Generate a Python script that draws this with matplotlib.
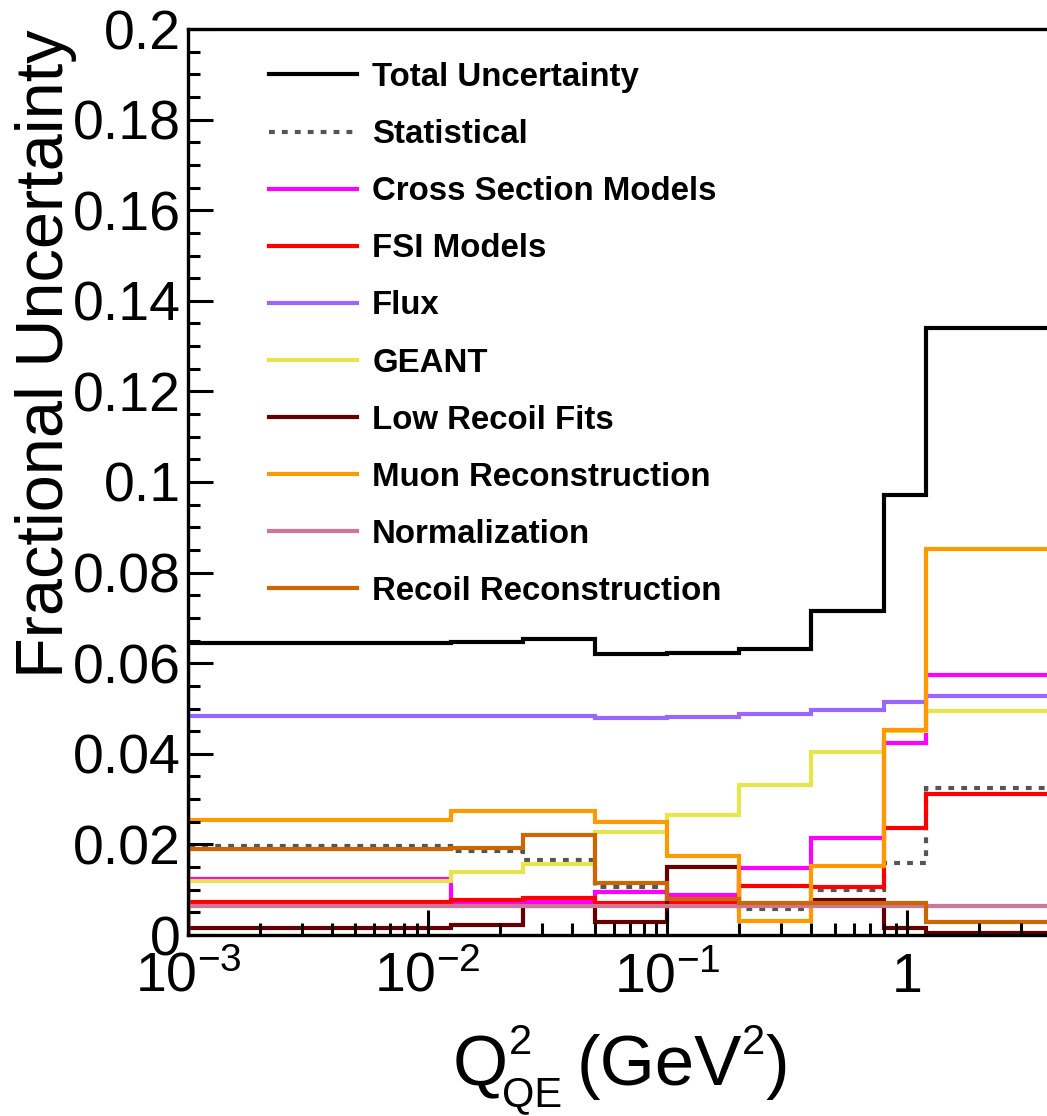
import numpy as np
import matplotlib.pyplot as plt
from matplotlib.lines import Line2D
from matplotlib.transforms import IdentityTransform
from matplotlib.ticker import MultipleLocator, LogLocator, NullFormatter, FixedLocator

plt.rcParams['font.family'] = ['Liberation Sans', 'DejaVu Sans']
plt.rcParams['mathtext.fontset'] = 'custom'
plt.rcParams['mathtext.rm'] = 'Liberation Sans'
plt.rcParams['mathtext.it'] = 'Liberation Sans:italic'
plt.rcParams['mathtext.default'] = 'regular'

# Q2_QE bin edges (GeV^2)
q2_edges = [0.001, 0.0125, 0.025, 0.05, 0.1, 0.2, 0.4, 0.8, 1.2, 4.0]

# fractional uncertainties per bin
total      = [0.0644, 0.0647, 0.0654, 0.0621, 0.0622, 0.0632, 0.0715, 0.0972, 0.1339]
stat       = [0.0197, 0.0186, 0.0165, 0.0106, 0.0071, 0.0057, 0.0100, 0.0158, 0.0325]
xsec       = [0.0124, 0.0072, 0.0073, 0.0094, 0.0088, 0.0148, 0.0215, 0.0423, 0.0573]
fsi        = [0.0073, 0.0077, 0.0082, 0.0070, 0.0070, 0.0109, 0.0105, 0.0237, 0.0312]
flux       = [0.0483, 0.0483, 0.0483, 0.0480, 0.0481, 0.0487, 0.0496, 0.0514, 0.0528]
geant      = [0.0120, 0.0138, 0.0157, 0.0228, 0.0265, 0.0332, 0.0403, 0.0450, 0.0494]
low_recoil = [0.0016, 0.0022, 0.0063, 0.0029, 0.0151, 0.0066, 0.0077, 0.0016, 0.0005]
muon_reco  = [0.0253, 0.0274, 0.0273, 0.0250, 0.0174, 0.0032, 0.0153, 0.0452, 0.0853]
norm       = [0.0063, 0.0063, 0.0063, 0.0063, 0.0063, 0.0063, 0.0063, 0.0063, 0.0063]
recoil     = [0.0189, 0.0191, 0.0220, 0.0114, 0.0079, 0.0071, 0.0070, 0.0070, 0.0029]

labels = ["Total Uncertainty", "Statistical", "Cross Section Models", "FSI Models",
          "Flux", "GEANT", "Low Recoil Fits", "Muon Reconstruction",
          "Normalization", "Recoil Reconstruction"]
series = [total, stat, xsec, fsi, flux, geant, low_recoil, muon_reco, norm, recoil]
colors = ["black", "#555555", "#ff00ff", "#ff0000", "#9966ff", "#e6e64c",
          "#660000", "#ff9900", "#cc7799", "#cc6600"]
dotted = (0, (1.4, 1.7))

fig = plt.figure(figsize=(10.47, 11.16), dpi=100)
ax = fig.add_axes([188/1047, 181/1116, 863/1047, 906/1116])

handles = []
for vals, col, lab in zip(series, colors, labels):
    ls = dotted if lab == "Statistical" else '-'
    ax.stairs(vals, q2_edges, baseline=0, color=col, lw=3, linestyle=ls)
    handles.append(Line2D([], [], color=col, lw=3, linestyle=ls))

ax.set_xscale('log')
ax.set_xlim(0.001, 4.0)
ax.set_ylim(0, 0.2)

ax.xaxis.set_major_locator(FixedLocator([1e-3, 1e-2, 1e-1, 1]))
ax.set_xticklabels([r'$10^{-3}$', r'$10^{-2}$', r'$10^{-1}$', '1'])
ax.xaxis.set_minor_locator(LogLocator(base=10, subs=np.arange(2, 10)))
ax.xaxis.set_minor_formatter(NullFormatter())

ax.yaxis.set_minor_locator(MultipleLocator(0.005))
ax.set_yticks(np.arange(0, 0.201, 0.02))
ax.set_yticklabels(['0', '0.02', '0.04', '0.06', '0.08', '0.1',
                    '0.12', '0.14', '0.16', '0.18', '0.2'])

ax.tick_params(which='both', direction='in', width=2.2, labelsize=40,
               top=False, right=False)
ax.tick_params(which='major', length=18)
ax.tick_params(which='minor', length=8.5)
ax.tick_params(axis='y', pad=5)
ax.tick_params(axis='x', pad=12)
for sp in ax.spines.values():
    sp.set_linewidth(2.4)

ax.set_ylabel("Fractional Uncertainty", fontsize=48, loc='top')
ax.yaxis.set_label_coords(-0.129, 1.0)

# x title built piece by piece: big letters, small sub/superscripts (pixel coords)
r = fig.canvas.get_renderer()
H = 1116
def piece(x, y, s, size):
    t = fig.text(x, H - y, s, fontsize=size, ha='left', va='baseline',
                 transform=IdentityTransform())
    return t.get_window_extent(r).x1

x = piece(453, 1085, "Q", 51)
piece(x + 1, 1054, "2", 30)
x = piece(x - 6, 1106, "QE", 30)
x = piece(x + 14, 1085, "(GeV", 51)
x = piece(x, 1054, "2", 30)
piece(x + 1, 1085, ")", 51)

ax.legend(handles, labels, loc='upper left', bbox_to_anchor=(269/1047, 1 - 62/1116),
          bbox_transform=fig.transFigure, frameon=False, borderpad=0, borderaxespad=0,
          handlelength=2.65, handletextpad=0.47, labelspacing=0.79,
          prop={'family': 'Liberation Sans', 'weight': 'bold', 'size': 23.8})

fig.savefig('out.png', dpi=100)
